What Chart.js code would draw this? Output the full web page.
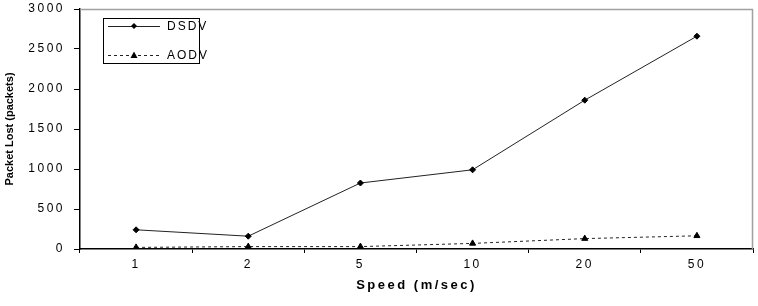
<!DOCTYPE html>
<html>
<head>
<meta charset="utf-8">
<script src="https://cdn.jsdelivr.net/npm/chart.js@4"></script>
<style>
  body { margin: 0; background: #fff; }
  #wrap { width: 758px; height: 306px; }
</style>
</head>
<body>
<div id="wrap"><canvas id="c"></canvas></div>
<script>
const speeds = ['1', '2', '5', '10', '20', '50'];
const dsdv = [240, 160, 825, 990, 1860, 2660];
const aodv = [20, 30, 30, 70, 130, 165];
const yTicks = [0, 500, 1000, 1500, 2000, 2500, 3000];
const yTitle = 'Packet Lost (packets)';

// frame + inset legend box, wide letter spacing like the original figure
const frame = {
  id: 'frame',
  beforeDraw(chart) {
    chart.ctx.letterSpacing = '2.5px';
  },
  beforeDatasetsDraw(chart) {
    const a = chart.chartArea, ctx = chart.ctx;
    ctx.save();
    ctx.strokeStyle = '#a0a0a0';
    ctx.lineWidth = 1.5;
    ctx.beginPath();
    ctx.moveTo(a.left, a.top + 0.5);
    ctx.lineTo(a.right - 0.5, a.top + 0.5);
    ctx.lineTo(a.right - 0.5, a.bottom);
    ctx.stroke();
    ctx.restore();
  },
  afterDraw(chart) {
    const a = chart.chartArea, ctx = chart.ctx;
    const x0 = a.left + 23, y0 = a.top + 9;
    ctx.save();
    ctx.strokeStyle = '#000';
    ctx.lineWidth = 1;
    ctx.strokeRect(x0 + 0.5, y0 + 0.5, 96, 45);
    ctx.font = '12px "Liberation Sans", Arial, sans-serif';
    ctx.letterSpacing = '2px';
    ctx.textBaseline = 'middle';
    chart.data.datasets.forEach((ds, i) => {
      const y = y0 + 8 + i * 29;
      ctx.strokeStyle = ds.borderColor;
      ctx.setLineDash(ds.borderDash || []);
      ctx.beginPath();
      ctx.moveTo(x0 + 5, y + 0.5);
      ctx.lineTo(x0 + 57, y + 0.5);
      ctx.stroke();
      ctx.setLineDash([]);
      ctx.fillStyle = '#000';
      ctx.beginPath();
      const cx = x0 + 31;
      if (ds.pointStyle === 'triangle') {
        ctx.moveTo(cx, y - 3.5); ctx.lineTo(cx + 3.5, y + 3); ctx.lineTo(cx - 3.5, y + 3);
      } else {
        ctx.moveTo(cx, y - 3); ctx.lineTo(cx + 3, y); ctx.lineTo(cx, y + 3); ctx.lineTo(cx - 3, y);
      }
      ctx.closePath();
      ctx.fill();
      ctx.fillText(ds.label, x0 + 64, y + 1);
    });

    // condensed vertical axis title
    ctx.letterSpacing = '0px';
    ctx.font = 'bold 11px "Liberation Sans Narrow", "Liberation Sans", Arial, sans-serif';
    ctx.textAlign = 'center';
    ctx.translate(10, (a.top + a.bottom) / 2);
    ctx.rotate(-Math.PI / 2);
    ctx.fillText(yTitle, 0, 0);
    ctx.restore();
    ctx.letterSpacing = '0px';
  }
};

const font = { family: '"Liberation Sans", Arial, sans-serif', size: 12 };

new Chart(document.getElementById('c'), {
  type: 'line',
  data: {
    labels: speeds,
    datasets: [
      {
        label: 'DSDV', data: dsdv,
        borderColor: '#222', borderWidth: 1,
        pointStyle: 'rectRot', pointRadius: 3,
        pointBackgroundColor: '#000', pointBorderColor: '#000'
      },
      {
        label: 'AODV', data: aodv,
        borderColor: '#222', borderWidth: 1, borderDash: [3, 3],
        pointStyle: 'triangle', pointRadius: 3.5,
        pointBackgroundColor: '#000', pointBorderColor: '#000'
      }
    ]
  },
  options: {
    responsive: true,
    maintainAspectRatio: false,
    animation: false,
    layout: { padding: { top: 9, right: 1, left: 20, bottom: 0 } },
    plugins: { legend: { display: false }, tooltip: { enabled: false } },
    scales: {
      x: {
        offset: true,
        grid: { offset: true, drawOnChartArea: false, tickLength: 4, color: '#000' },
        border: { color: '#000', width: 1.5 },
        ticks: { color: '#000', font, padding: 4 },
        title: {
          display: true, text: 'Speed (m/sec)', color: '#000',
          font: { family: '"Liberation Sans", Arial, sans-serif', size: 13, weight: 'bold' },
          padding: { top: 0, bottom: 13 }
        },
        afterFit(s) { s.height = 57; }
      },
      y: {
        min: 0, max: 3000,
        afterBuildTicks(s) { s.ticks = yTicks.map(v => ({ value: v })); },
        grid: { drawOnChartArea: false, tickLength: 6, color: '#000' },
        border: { color: '#000', width: 1.5 },
        ticks: { color: '#000', font, padding: 9, callback: v => String(v) },
        afterFit(s) { s.width = 60; s.paddingTop = 0; s.paddingBottom = 0; }
      }
    }
  },
  plugins: [frame]
});
</script>
</body>
</html>
